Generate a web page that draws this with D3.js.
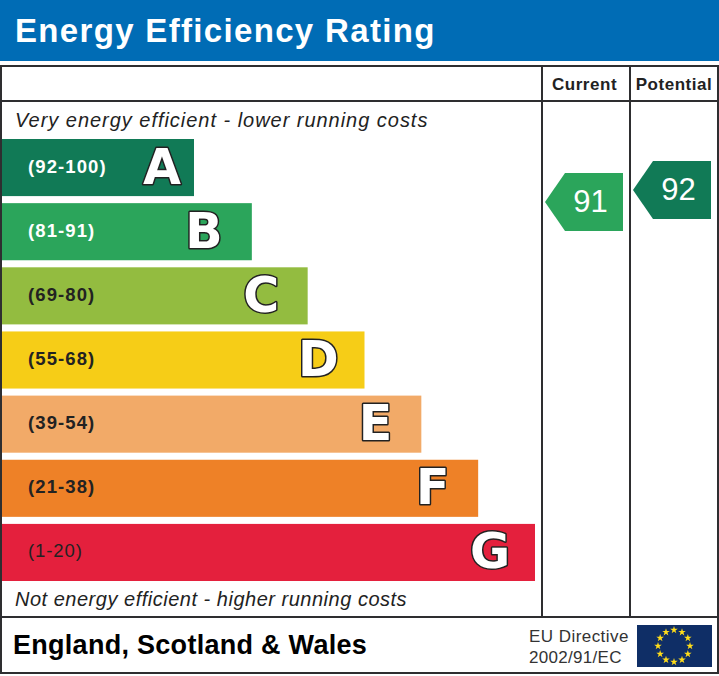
<!DOCTYPE html>
<html><head><meta charset="utf-8">
<script src="https://cdn.jsdelivr.net/npm/d3@7"></script>
<style>html,body{margin:0;padding:0;background:#fff}svg{display:block}text{font-family:"Liberation Sans",Arial,sans-serif}</style>
</head><body><div id="c"></div>
<script>
const bands = ["A","B","C","D","E","F","G"];
const ranges = ["(92-100)","(81-91)","(69-80)","(55-68)","(39-54)","(21-38)","(1-20)"];
const ranks = [1,2,3,4,5,6,7];
const colors = ["#117a56","#2ba55b","#93bc40","#f6cd17","#f2aa68","#ee8127","#e4203d"];
const rangeColors = ["#fff","#fff","#222","#222","#222","#222","#222"];
const columns = ["Current","Potential"];
const scores = [91,92];
const scoreBands = ["B","A"];

const W=719,H=676;
const svg=d3.select("#c").append("svg").attr("width",W).attr("height",H);
const dark="#2e2e30";
svg.append("rect").attr("x",0).attr("y",0).attr("width",W).attr("height",61).attr("fill","#006cb5");
svg.append("text").attr("x",15).attr("y",42).attr("fill","#fff").attr("font-size",33).attr("font-weight",700).attr("letter-spacing",1.33).text("Energy Efficiency Rating");

const frame=svg.append("g").attr("stroke",dark).attr("stroke-width",2).attr("fill","none");
frame.append("rect").attr("x",1).attr("y",66).attr("width",717).attr("height",607);
[[1,101,718,101],[1,617,718,617],[542,66,542,617],[630,66,630,617]].forEach(l=>
  frame.append("line").attr("x1",l[0]).attr("y1",l[1]).attr("x2",l[2]).attr("y2",l[3]));

const y=d3.scaleBand().domain(bands).range([139,581]).paddingInner(0.11).paddingOuter(0);
const x=d3.scaleLinear().domain([1,7]).range([194,535]);
const letterX=d3.scaleLinear().domain([1,2,7]).range([162,204,490]);
const rows=bands.map((b,i)=>({b,r:ranks[i],c:colors[i],t:ranges[i],tc:rangeColors[i]}));
const g=svg.append("g").selectAll("g").data(rows).join("g");
g.append("rect").attr("x",2).attr("y",d=>y(d.b)).attr("width",d=>x(d.r)-2+(d.b==="B"?1:0)).attr("height",y.bandwidth()).attr("fill",d=>d.c);
g.append("text").attr("x",28).attr("y",d=>y(d.b)+y.bandwidth()/2+5).attr("font-size",18.5).attr("font-weight",d=>d.b==="G"?400:700).attr("letter-spacing",d=>d.b==="G"?0.9:1.1).attr("fill",d=>d.tc).text(d=>d.t);
g.append("text").attr("x",d=>letterX(d.r)).attr("y",d=>y(d.b)+y.bandwidth()/2+16).attr("text-anchor","middle")
 .style("font-family","'DejaVu Sans'").attr("font-size",49).attr("font-weight",700).attr("fill","#fff").attr("stroke","#222").attr("stroke-width",3).attr("paint-order","stroke").attr("stroke-linejoin","round").text(d=>d.b);

svg.append("text").attr("x",15).attr("y",127).attr("font-size",20).attr("font-style","italic").attr("letter-spacing",0.97).attr("fill","#222").text("Very energy efficient - lower running costs");
svg.append("text").attr("x",15).attr("y",606).attr("font-size",20).attr("font-style","italic").attr("letter-spacing",0.51).attr("fill","#222").text("Not energy efficient - higher running costs");

const colCenter={Current:585,Potential:674};
columns.forEach(c=>svg.append("text").attr("x",c==="Potential"?colCenter[c]:colCenter[c]-0.5).attr("y",90).attr("text-anchor","middle").attr("font-size",17).attr("font-weight",700).attr("letter-spacing",0.55).attr("fill","#222").text(c));

const scoreY=d3.scaleLinear().domain([91,92]).range([202,190]);
const arrowW=78,tip=20,arrowH=58;
const arrowLeft={Current:545,Potential:633};
const arrowLine=d3.line();
columns.forEach((c,i)=>{
  const left=arrowLeft[c], cy=scoreY(scores[i]);
  svg.append("path").attr("d",arrowLine([[left,cy],[left+tip,cy-arrowH/2],[left+arrowW,cy-arrowH/2],[left+arrowW,cy+arrowH/2],[left+tip,cy+arrowH/2]])+"Z").attr("fill",colors[bands.indexOf(scoreBands[i])]);
  svg.append("text").attr("x",left+45.5).attr("y",cy+10).attr("text-anchor","middle").attr("font-size",31).attr("fill","#fff").text(scores[i]);
});

svg.append("text").attr("x",13).attr("y",654).attr("font-size",27).attr("font-weight",700).attr("letter-spacing",0.28).attr("fill","#000").text("England, Scotland & Wales");
svg.append("text").attr("x",529).attr("y",642).attr("font-size",17).attr("letter-spacing",0.45).attr("fill","#333").text("EU Directive");
svg.append("text").attr("x",529).attr("y",663).attr("font-size",17).attr("letter-spacing",0.3).attr("fill","#333").text("2002/91/EC");

svg.append("rect").attr("x",637).attr("y",625).attr("width",75).attr("height",42).attr("fill","#0f2e66");
const stars=d3.range(12);
const star=d3.symbol().type(d3.symbolStar).size(18)();
svg.append("g").selectAll("path").data(stars).join("path").attr("d",star).attr("fill","#ffdd1a")
 .attr("transform",d=>{const a=d/12*2*Math.PI;return `translate(${674+16*Math.sin(a)},${646-16*Math.cos(a)})`;});
</script></body></html>
